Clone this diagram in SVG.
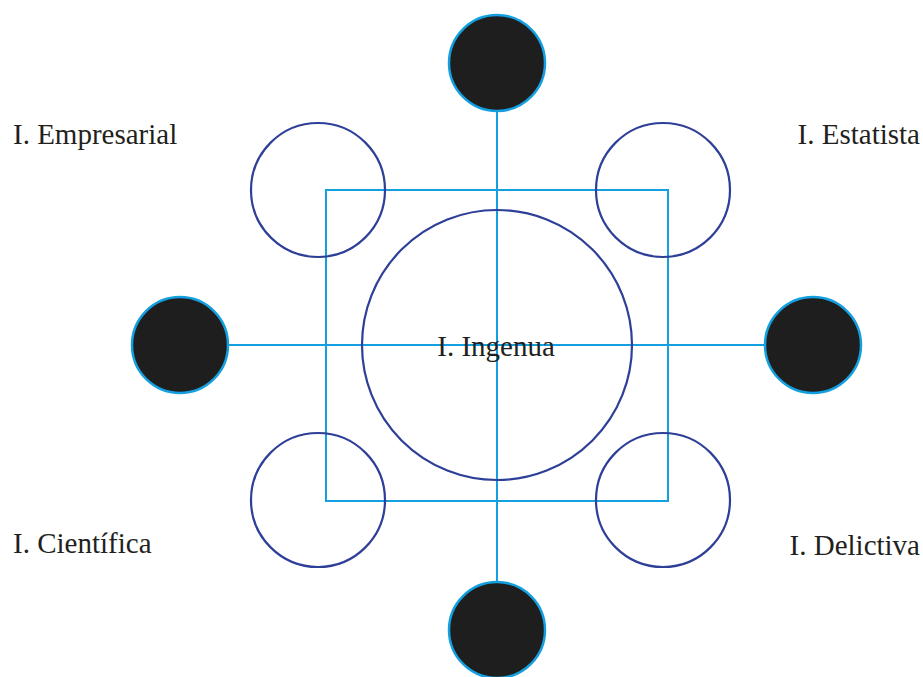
<svg xmlns="http://www.w3.org/2000/svg" width="923" height="677" viewBox="0 0 923 677">
<style>
.lbl{font-family:"Liberation Serif","Times New Roman",serif;font-size:29px;fill:#231f20}
.ring{fill:none;stroke:#2e3f98;stroke-width:2.2}
.dot{fill:#1e1e1e;stroke:#14a0e0;stroke-width:2.5}
.ln{fill:none;stroke:#14a0e0;stroke-width:2}
</style>
<rect width="923" height="677" fill="#ffffff"/>
<g id="connectors">
<rect class="ln" x="326" y="190" width="342" height="311"/>
<line class="ln" x1="497" y1="112" x2="497" y2="582"/>
<line class="ln" x1="229" y1="345" x2="765" y2="345"/>
</g>
<g id="ring-tl"><circle class="ring" cx="318" cy="190" r="67"/></g>
<g id="ring-tr"><circle class="ring" cx="663" cy="190" r="67"/></g>
<g id="ring-bl"><circle class="ring" cx="318" cy="500" r="67"/></g>
<g id="ring-br"><circle class="ring" cx="663" cy="500" r="67"/></g>
<g id="center"><circle class="ring" cx="497" cy="345" r="135"/>
<text class="lbl" x="496" y="356" text-anchor="middle">I. Ingenua</text></g>
<g id="dot-top"><circle class="dot" cx="497" cy="63" r="48"/></g>
<g id="dot-bottom"><circle class="dot" cx="497" cy="630" r="48"/></g>
<g id="dot-left"><circle class="dot" cx="180" cy="345" r="48"/></g>
<g id="dot-right"><circle class="dot" cx="813" cy="345" r="48"/></g>
<g id="label-tl"><text class="lbl" x="13" y="144">I. Empresarial</text></g>
<g id="label-tr"><text class="lbl" x="920" y="144" text-anchor="end">I. Estatista</text></g>
<g id="label-bl"><text class="lbl" x="13" y="553">I. Científica</text></g>
<g id="label-br"><text class="lbl" x="920" y="555" text-anchor="end">I. Delictiva</text></g>
</svg>
